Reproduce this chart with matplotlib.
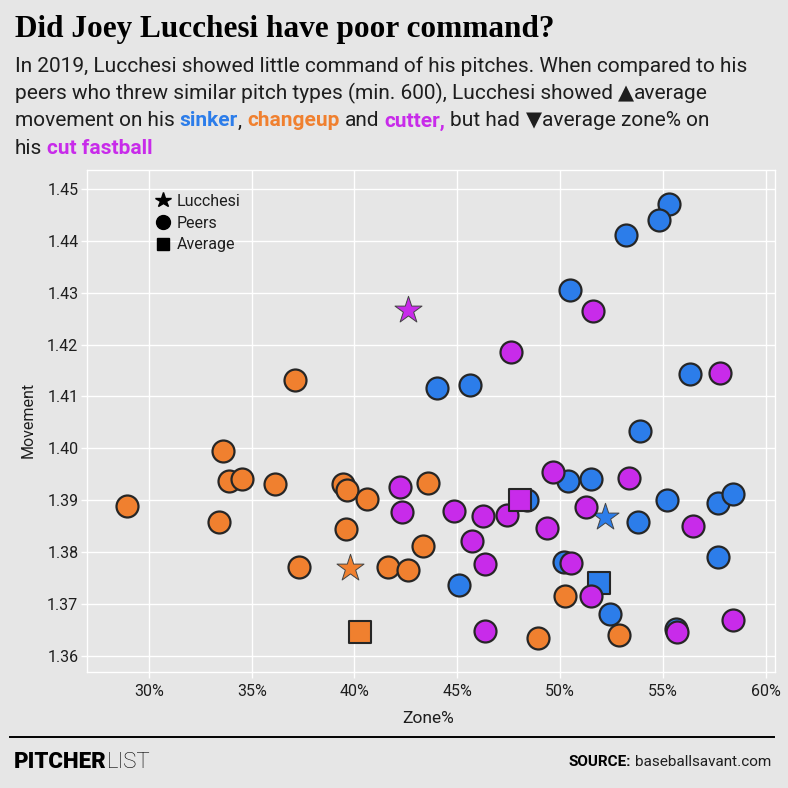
import matplotlib
matplotlib.use("Agg")
import matplotlib.pyplot as plt
from matplotlib.lines import Line2D
from matplotlib.ticker import MultipleLocator, FuncFormatter

W = H = 788
DPI = 100

BG = "#E6E6E6"
INK = "#1E1E1E"
BLUE = "#2C7DEA"
ORANGE = "#F0802F"
PURPLE = "#C82BEA"
EDGE = "#262626"
SANS = ["Roboto", "DejaVu Sans"]
SYMB = ["DejaVu Sans"]
SERIF = ["Liberation Serif", "DejaVu Serif"]

# ---------- data (zone % , movement) ----------
sinker_zone = [55.3, 54.8, 53.2, 50.5, 44.0, 45.6, 56.3, 53.9, 50.4, 51.5,
               48.4, 55.2, 57.7, 58.4, 53.8, 57.7, 50.2, 45.1, 52.45, 55.65]
sinker_move = [1.4472, 1.4441, 1.4412, 1.4306, 1.4117, 1.4123, 1.4144, 1.4034, 1.3936, 1.3940,
               1.3901, 1.3901, 1.3895, 1.3911, 1.3857, 1.3791, 1.3780, 1.3737, 1.3681, 1.3651]
sinker_lucchesi = (52.2, 1.3868)
sinker_average = (51.9, 1.3740)

changeup_zone = [37.1, 33.6, 33.9, 34.55, 36.15, 39.45, 39.65, 40.6, 43.6, 28.95,
                 33.4, 39.6, 43.35, 37.3, 41.65, 42.6, 50.25, 52.85, 48.95]
changeup_move = [1.4132, 1.3994, 1.3936, 1.3940, 1.3932, 1.3931, 1.3920, 1.3903, 1.3934, 1.3889,
                 1.3858, 1.3844, 1.3812, 1.3771, 1.3771, 1.3765, 1.3716, 1.3639, 1.3634]
changeup_lucchesi = (39.8, 1.3769)
changeup_average = (40.25, 1.3645)

cutter_zone = [51.6, 47.6, 57.8, 42.2, 42.3, 49.65, 53.35, 44.85, 46.25, 47.4,
               51.25, 49.35, 45.7, 46.35, 50.55, 51.5, 46.35, 56.45, 58.4, 55.7]
cutter_move = [1.4264, 1.4185, 1.4146, 1.3926, 1.3878, 1.3954, 1.3943, 1.3880, 1.3870, 1.3872,
               1.3886, 1.3847, 1.3822, 1.3776, 1.3778, 1.3716, 1.3647, 1.3850, 1.3669, 1.3646]
cutter_lucchesi = (42.6, 1.4266)
cutter_average = (48.05, 1.3900)

x_ticks = [30, 35, 40, 45, 50, 55, 60]


def fx(px):
    return px / W


def fy(py):
    return 1 - py / H


def text_width(fig, renderer, s, size, weight, family):
    t = fig.text(0, 0, s, fontsize=size, fontweight=weight, family=family)
    w = t.get_window_extent(renderer).width
    t.remove()
    return w


def draw_runs(fig, renderer, x, y, runs, size):
    """Write coloured pieces of text one after another on a baseline (pixels)."""
    for run in runs:
        s, color, weight = run[:3]
        family = run[3] if len(run) > 3 else SANS
        sp = (text_width(fig, renderer, "a a", size, weight, SANS)
              - text_width(fig, renderer, "aa", size, weight, SANS))
        core = s.strip(" ")
        lead = len(s) - len(s.lstrip(" "))
        trail = len(s) - len(s.rstrip(" "))
        x += lead * sp
        if core:
            t = fig.text(fx(x), fy(y), core, fontsize=size, fontweight=weight,
                         family=family, color=color, va="baseline", ha="left")
            x += t.get_window_extent(renderer).width
        x += trail * sp
    return x


fig = plt.figure(figsize=(W / DPI, H / DPI), dpi=DPI, facecolor=BG)
renderer = fig.canvas.get_renderer()

ax = fig.add_axes([fx(86.7), fy(671.7), fx(775 - 86.7), (671.7 - 170) / H])
ax.set_facecolor(BG)
for sp in ax.spines.values():
    sp.set_color("white")
    sp.set_linewidth(1.0)
ax.grid(True, color="white", linewidth=1.0, zorder=0)
ax.set_axisbelow(True)

groups = [
    (sinker_zone, sinker_move, sinker_lucchesi, sinker_average, BLUE),
    (changeup_zone, changeup_move, changeup_lucchesi, changeup_average, ORANGE),
    (cutter_zone, cutter_move, cutter_lucchesi, cutter_average, PURPLE),
]
for zone, move, star, avg, color in groups:
    ax.scatter(zone, move, s=250, color=color, edgecolors=EDGE, linewidths=1.6, zorder=3)
    ax.scatter([avg[0]], [avg[1]], marker="s", s=235, color=color,
               edgecolors=EDGE, linewidths=1.5, zorder=3)
    ax.scatter([star[0]], [star[1]], marker="*", s=420, color=color,
               edgecolors="#444444", linewidths=0.7, zorder=3)

ax.set_xlim(26.97, 60.46)
ax.set_ylim(1.3569, 1.4537)
ax.set_xticks(x_ticks)
ax.xaxis.set_major_formatter(FuncFormatter(lambda v, p: f"{v:.0f}%"))
ax.yaxis.set_major_locator(MultipleLocator(0.01))
ax.yaxis.set_major_formatter(FuncFormatter(lambda v, p: f"{v:.2f}"))
ax.tick_params(axis="both", colors="white", length=4, width=1.0,
               labelcolor=INK, labelsize=11.5)
ax.tick_params(axis="x", pad=5)
ax.tick_params(axis="y", pad=2)
for lab in ax.get_xticklabels() + ax.get_yticklabels():
    lab.set_family(SANS)

# legend
handles = [
    Line2D([], [], marker="*", color="black", linestyle="none", markersize=11.5),
    Line2D([], [], marker="o", color="black", linestyle="none", markersize=10),
    Line2D([], [], marker="s", color="black", linestyle="none", markersize=9),
]
leg = ax.legend(handles, ["Lucchesi", "Peers", "Average"], loc="upper left",
                bbox_to_anchor=(0.088, 0.968), frameon=False, borderpad=0,
                handlelength=1.0, handletextpad=0.35, labelspacing=0.42,
                prop={"family": SANS, "size": 11.5})
for t in leg.get_texts():
    t.set_color(INK)

# axis titles
fig.text(fx(28.3), fy(420), "Movement", rotation=90, ha="center", va="center",
         fontsize=11.5, family=SANS, color=INK)
fig.text(fx(428), fy(723), "Zone%", ha="center", va="baseline",
         fontsize=12.5, family=SANS, color=INK)

# title and subtitle
fig.text(fx(15), fy(37), "Did Joey Lucchesi have poor command?", fontsize=22.5,
         fontweight="bold", family=SERIF, color="black", va="baseline")

body = "normal"
fs = 15.0
draw_runs(fig, renderer, 15, 71.7,
          [("In 2019, Lucchesi showed little command of his pitches. When compared to his", INK, body)],
          fs)
draw_runs(fig, renderer, 15, 99,
          [("peers who threw similar pitch types (min. 600), Lucchesi showed ", INK, body),
           ("\u25b2", INK, body, SYMB), ("average", INK, body)], fs)
draw_runs(fig, renderer, 15, 126.5,
          [("movement on his ", INK, body), ("sinker", BLUE, "bold"), (", ", INK, body),
           ("changeup", ORANGE, "bold"), (" and ", INK, body), ("cutter,", PURPLE, "bold"),
           (" but had ", INK, body), ("\u25bc", INK, body, SYMB), ("average zone% on", INK, body)], fs)
draw_runs(fig, renderer, 15, 153.5,
          [("his ", INK, body), ("cut fastball", PURPLE, "bold")], fs)

# footer
fig.add_artist(Line2D([fx(10), fx(774)], [fy(737), fy(737)], transform=fig.transFigure,
                      color="black", linewidth=1.4))
draw_runs(fig, renderer, 14, 768, [("PITCHER", "black", "heavy"), ("LIST", "black", "light")], 16)
src = text_width(fig, renderer, "baseballsavant.com", 11, "normal", SANS)
src_b = text_width(fig, renderer, "SOURCE:", 11, "bold", SANS)
sp = text_width(fig, renderer, "a a", 11, "normal", SANS) - text_width(fig, renderer, "aa", 11, "normal", SANS)
draw_runs(fig, renderer, 771 - src - sp - src_b, 766,
          [("SOURCE: ", "black", "bold"), ("baseballsavant.com", INK, "normal")], 11)

fig.savefig("out.png", dpi=DPI, facecolor=BG)
